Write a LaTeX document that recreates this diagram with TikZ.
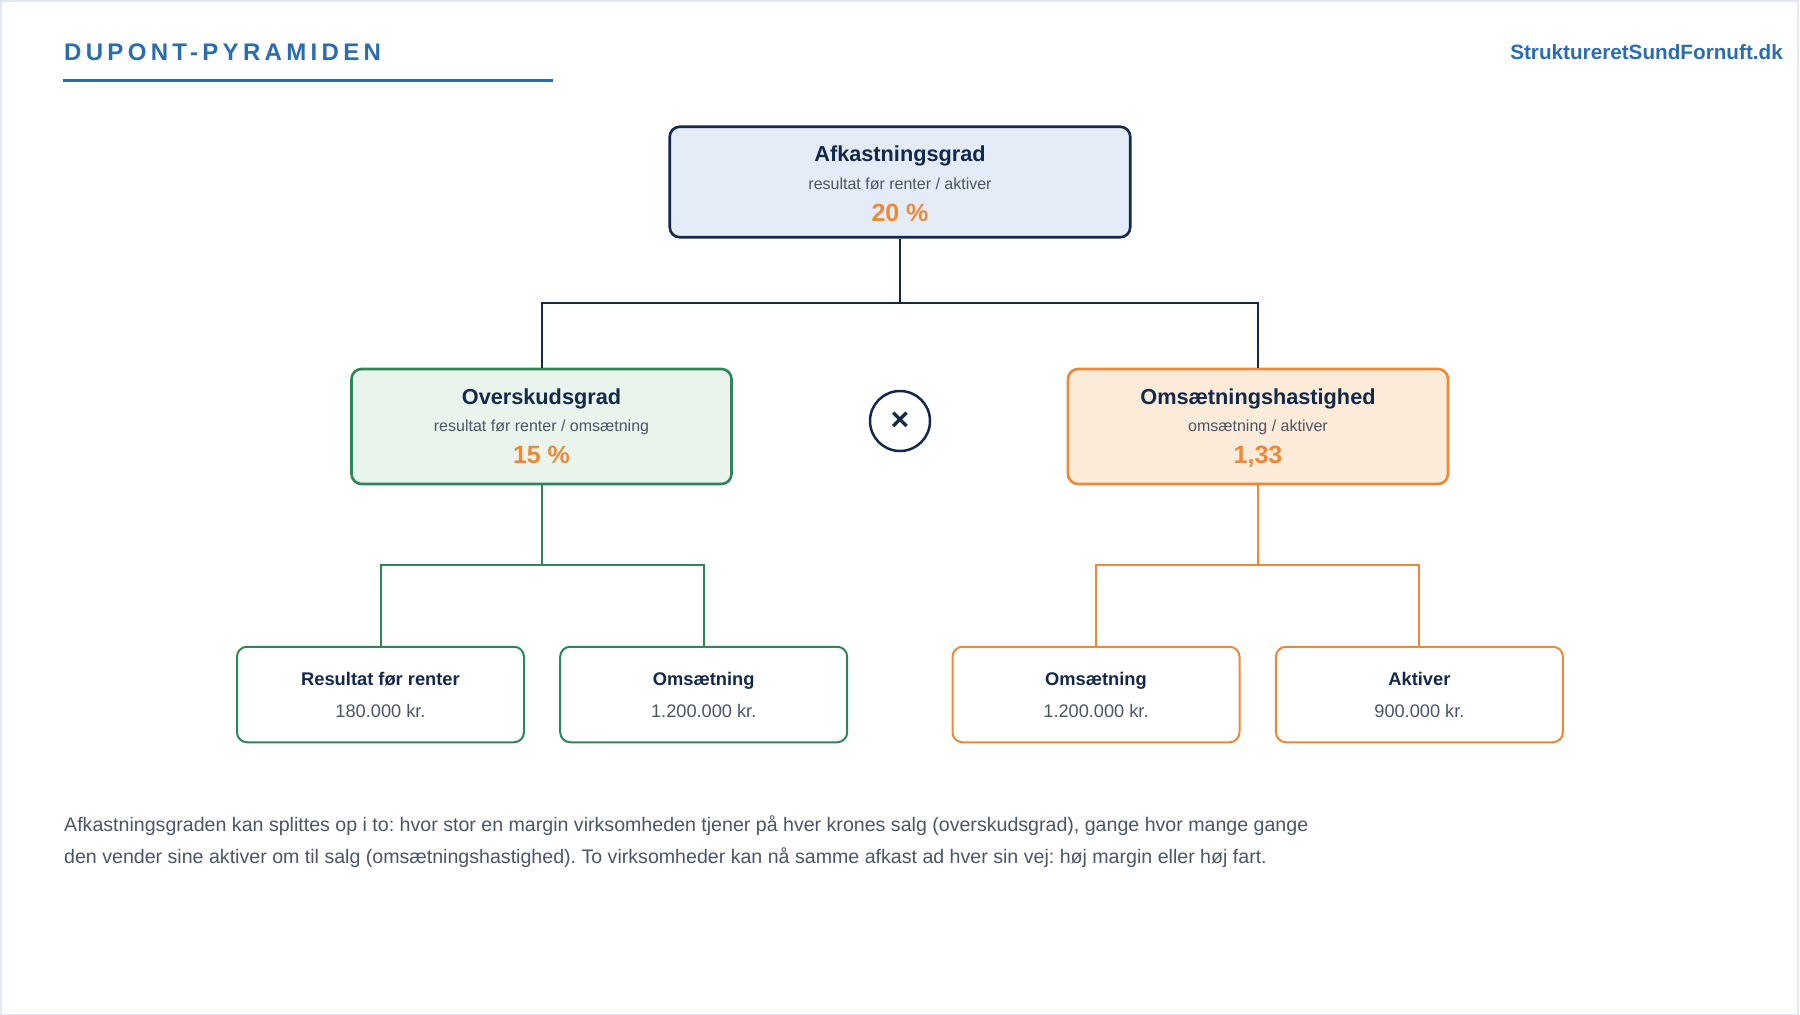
\documentclass[tikz,border=0pt]{standalone}
\usepackage{fontspec}
\setmainfont{Liberation Sans}
\frenchspacing
\definecolor{navy}{HTML}{13294B}
\definecolor{ttlblue}{HTML}{2B6CB0}
\definecolor{grn}{HTML}{2F855A}
\definecolor{grnfill}{HTML}{E8F4EC}
\definecolor{org}{HTML}{ED8936}
\definecolor{orgfill}{HTML}{FDEBD9}
\definecolor{topfill}{HTML}{E3ECF7}
\definecolor{subgray}{HTML}{4A5568}
\definecolor{edgegray}{HTML}{E2E8F0}
\tikzset{
  bigbox/.style={rectangle, rounded corners=10pt, line width=2.6pt, inner sep=0pt},
  smallbox/.style={rectangle, rounded corners=10pt, line width=2pt, fill=white, inner sep=0pt, minimum width=287pt, minimum height=95.5pt},
  ttl/.style={anchor=base, inner sep=0pt, text=navy, font=\fontsize{21.7}{26}\selectfont\bfseries},
  subt/.style={anchor=base, inner sep=0pt, text=subgray, font=\fontsize{16}{19}\selectfont},
  valt/.style={anchor=base, inner sep=0pt, text=org, font=\fontsize{25}{30}\selectfont\bfseries},
  sttl/.style={anchor=base, inner sep=0pt, text=navy, font=\fontsize{18.3}{22}\selectfont\bfseries},
  sval/.style={anchor=base, inner sep=0pt, text=subgray, font=\fontsize{18.2}{22}\selectfont},
  navyline/.style={draw=navy, line width=2pt},
  grnline/.style={draw=grn, line width=2pt},
  orgline/.style={draw=org, line width=2pt},
  para/.style={anchor=base west, inner sep=0pt, text=subgray, font=\fontsize{19.6}{23}\selectfont}
}
\begin{document}
\begin{tikzpicture}[x=1pt,y=-1pt]
\useasboundingbox (0,0) rectangle (1800,1015);
\draw[edgegray, line width=1.5pt] (0.75,0.75) rectangle (1798,1014.25);

% header
\node[anchor=base west, inner sep=0pt, text=ttlblue, font=\fontsize{24}{28}\selectfont\bfseries\addfontfeature{LetterSpace=18}] (title) at (64,60) {DUPONT-PYRAMIDEN};
\coordinate (ul1) at (63,80.5);
\coordinate (ul2) at (553,80.5);
\draw[ttlblue, line width=3.5pt] (ul1) -- (ul2);
\node[anchor=base east, inner sep=0pt, text=ttlblue, font=\fontsize{20.7}{24}\selectfont\bfseries] (url) at (1783,59.5) {StruktureretSundFornuft.dk};

% top box
\node[bigbox, draw=navy, fill=topfill, minimum width=460.5pt, minimum height=110.5pt] (top) at (900,182) {};
\node[ttl] (topt) at (900,161.7) {Afkastningsgrad};
\node[subt] (tops) at (900,189) {resultat før renter / aktiver};
\node[valt] (topv) at (900,221.7) {20 \%};

% middle boxes
\node[bigbox, draw=grn, fill=grnfill, minimum width=380pt, minimum height=115pt] (ml) at (541.5,426.5) {};
\node[ttl] (mlt) at (541.5,404.3) {Overskudsgrad};
\node[subt] (mls) at (541.5,431.7) {resultat før renter / omsætning};
\node[valt] (mlv) at (541.5,463.3) {15 \%};

\node[bigbox, draw=org, fill=orgfill, minimum width=380pt, minimum height=115pt] (mr) at (1258,426.5) {};
\node[ttl] (mrt) at (1258,404.3) {Omsætningshastighed};
\node[subt] (mrs) at (1258,431.7) {omsætning / aktiver};
\node[valt] (mrv) at (1258,463.3) {1,33};

% multiply circle
\node[circle, draw=navy, line width=2.5pt, minimum size=60pt, inner sep=0pt, text=navy, font=\fontsize{32}{32}\selectfont\bfseries] (mult) at (900,421) {×};

% bottom boxes
\node[smallbox, draw=grn] (b1) at (380.5,694.5) {};
\node[sttl] (b1t) at (380.5,685) {Resultat før renter};
\node[sval] (b1v) at (380.5,717) {180.000 kr.};

\node[smallbox, draw=grn] (b2) at (703.7,694.5) {};
\node[sttl] (b2t) at (703.7,685) {Omsætning};
\node[sval] (b2v) at (703.7,717) {1.200.000 kr.};

\node[smallbox, draw=org] (b3) at (1096,694.5) {};
\node[sttl] (b3t) at (1096,685) {Omsætning};
\node[sval] (b3v) at (1096,717) {1.200.000 kr.};

\node[smallbox, draw=org] (b4) at (1419.4,694.5) {};
\node[sttl] (b4t) at (1419.4,685) {Aktiver};
\node[sval] (b4v) at (1419.4,717) {900.000 kr.};

% connectors
\coordinate (j1) at (900,303);
\draw[navyline] (top.south) -- (j1) -| (ml.north);
\draw[navyline] (j1) -| (mr.north);
\coordinate (j2) at (541.5,565);
\draw[grnline] (ml.south) -- (j2) -| (b1.north);
\draw[grnline] (j2) -| (b2.north);
\coordinate (j3) at (1258,565);
\draw[orgline] (mr.south) -- (j3) -| (b3.north);
\draw[orgline] (j3) -| (b4.north);

% paragraph
\node[para] (p1) at (64,831.5) {Afkastningsgraden kan splittes op i to: hvor stor en margin virksomheden tjener på hver krones salg (overskudsgrad), gange hvor mange gange};
\node[para] (p2) at (64,863.5) {den vender sine aktiver om til salg (omsætningshastighed). To virksomheder kan nå samme afkast ad hver sin vej: høj margin eller høj fart.};
\end{tikzpicture}
\end{document}
